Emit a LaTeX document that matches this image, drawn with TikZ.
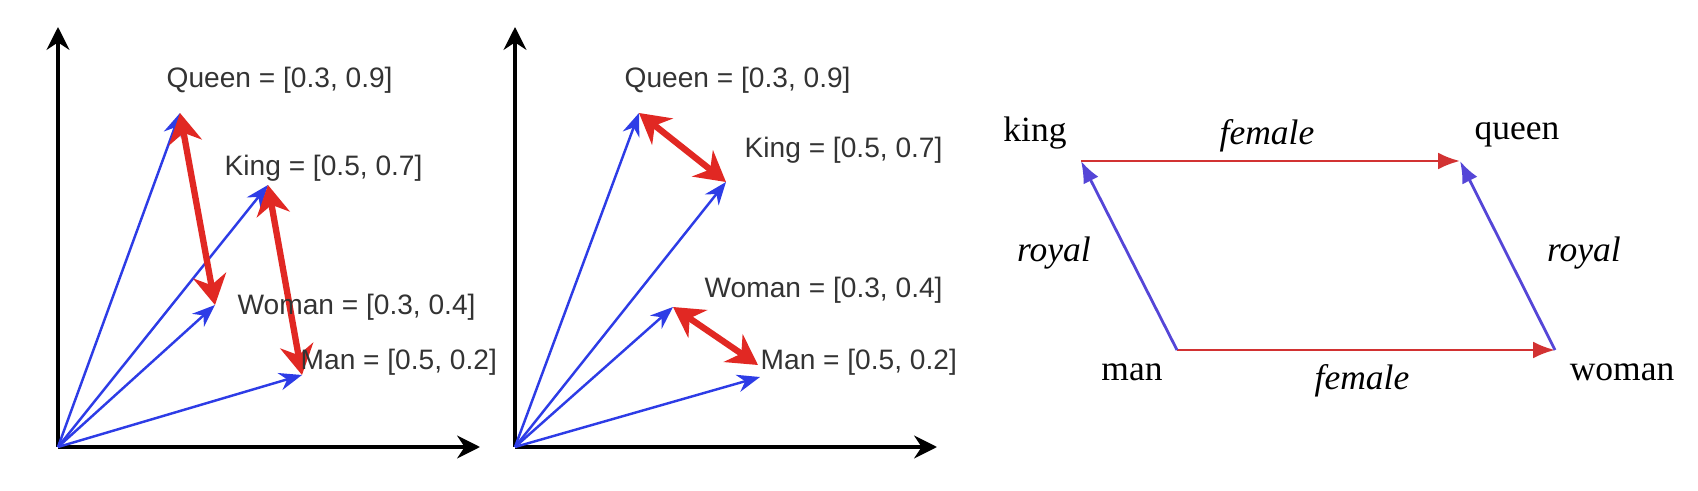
\documentclass[tikz,border=0pt]{standalone}
\usepackage{fontspec}
\setmainfont{Liberation Serif}
\setsansfont{Liberation Sans}
\usepackage{xcolor}
\usetikzlibrary{arrows.meta}
\definecolor{vecblue}{RGB}{45,60,230}
\definecolor{diffred}{RGB}{225,40,35}
\definecolor{parblue}{RGB}{85,70,215}
\definecolor{parred}{RGB}{210,50,50}

\begin{document}
\begin{tikzpicture}[x=0.1mm, y=0.1mm,
	axis/.style={black, line width=0.9pt, -{Stealth[length=6.5pt, width=6.5pt]}},
	vec/.style={vecblue, line width=0.7pt, -{Stealth[length=6.5pt, width=5pt]}},
	diff/.style={diffred, line width=1.8pt, {Stealth[length=8.5pt, width=9.5pt]}-{Stealth[length=8.5pt, width=9.5pt]}},
	lbl/.style={inner sep=0, anchor=west, text=black!80, font=\sffamily\fontsize{8}{9.6}\selectfont},
	word/.style={inner sep=0, font=\fontsize{10.1}{12}\selectfont},
	femaleedge/.style={parred, line width=0.8pt, -{Latex[length=6.2pt, width=4.8pt]}},
	royaledge/.style={parblue, line width=0.8pt, -{Latex[length=6.2pt, width=4.8pt]}}]
			\useasboundingbox (0,0) rectangle (1698,490);
			% first plot
			\coordinate (o1) at (58,43);
			\coordinate (y1) at (58,463);
			\coordinate (x1) at (480,43);
			\coordinate (q1) at (180,377);
			\coordinate (k1) at (268,305);
			\coordinate (w1) at (215,185);
			\coordinate (m1) at (302,115);
				\draw[axis] (o1)--(y1);
				\draw[axis] (o1)--(x1);
				\foreach \p in {q1, k1, w1, m1}
					\draw[vec] (o1)--(\p);
				\draw[diff] (q1)--(w1);
				\draw[diff] (k1)--(m1);
				\node[lbl] (ql1) at (166,410) {Queen = [0.3, 0.9]};
				\node[lbl] (kl1) at (224,322) {King = [0.5, 0.7]};
				\node[lbl] (wl1) at (237,183) {Woman = [0.3, 0.4]};
				\node[lbl] (ml1) at (300,128) {Man = [0.5, 0.2]};
			% second plot
			\coordinate (o2) at (515,43);
			\coordinate (y2) at (515,463);
			\coordinate (x2) at (937,43);
			\coordinate (q2) at (639,377);
			\coordinate (k2) at (726,308);
			\coordinate (w2) at (673,183);
			\coordinate (m2) at (760,113);
			\coordinate (mr2) at (758,125);
				\draw[axis] (o2)--(y2);
				\draw[axis] (o2)--(x2);
				\foreach \p in {q2, k2, w2, m2}
					\draw[vec] (o2)--(\p);
				\draw[diff] (q2)--(k2);
				\draw[diff] (w2)--(mr2);
				\node[lbl] (ql2) at (624,410) {Queen = [0.3, 0.9]};
				\node[lbl] (kl2) at (744,340) {King = [0.5, 0.7]};
				\node[lbl] (wl2) at (704,200) {Woman = [0.3, 0.4]};
				\node[lbl] (ml2) at (760,128) {Man = [0.5, 0.2]};
			% parallelogram
			\coordinate (king) at (1081,329);
			\coordinate (queen) at (1460,329);
			\coordinate (man) at (1177,140);
			\coordinate (woman) at (1555,140);
				\draw[femaleedge] (king)--(queen);
				\draw[femaleedge] (man)--(woman);
				\draw[royaledge] (man)--(king);
				\draw[royaledge] (woman)--(queen);
				\node[word] (kingl) at (1035,357) {king};
				\node[word] (queenl) at (1517,355) {queen};
				\node[word] (manl) at (1132,118) {man};
				\node[word] (womanl) at (1622,118) {woman};
				\node[word] (femt) at (1267,354) {\itshape female};
				\node[word] (femb) at (1362,109) {\itshape female};
				\node[word] (royl) at (1054,237) {\itshape royal};
				\node[word] (royr) at (1584,237) {\itshape royal};
\end{tikzpicture}
\end{document}
